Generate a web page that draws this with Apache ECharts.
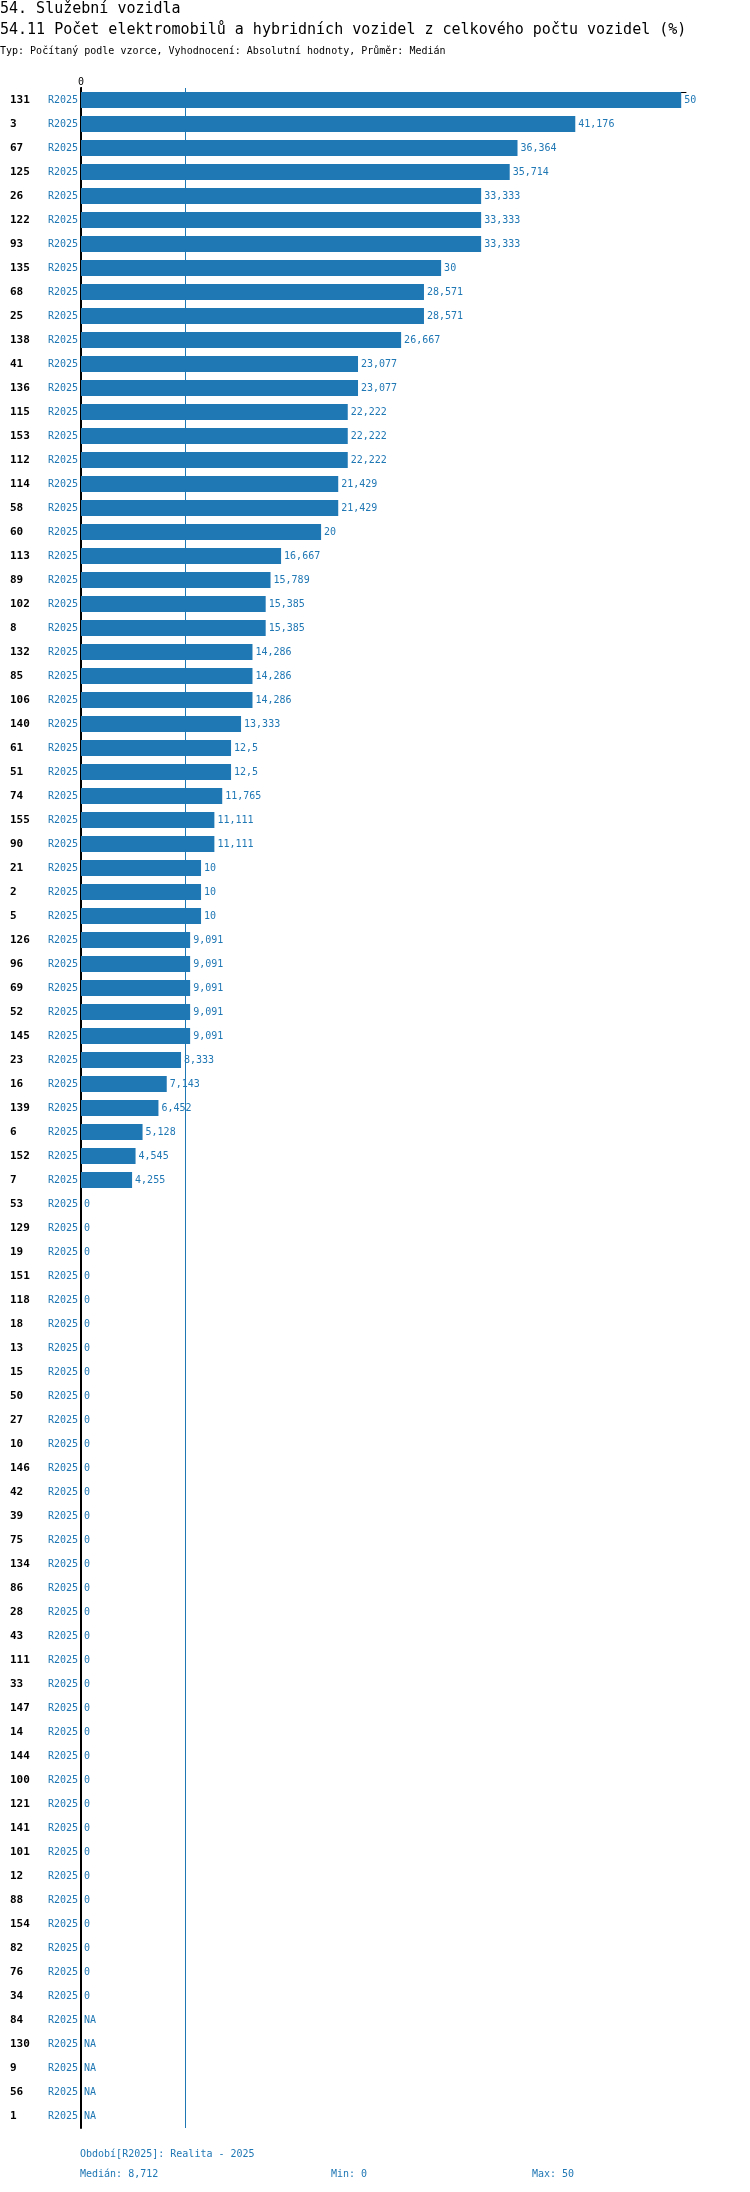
<!DOCTYPE html>
<html>
<head>
<meta charset="utf-8">
<script src="https://cdn.jsdelivr.net/npm/echarts@6/dist/echarts.min.js"></script>
<style>
html,body{margin:0;padding:0;background:#fff;}
#chart{width:750px;height:2192px;}
</style>
</head>
<body>
<div id="chart"></div>
<script>
var categories = ['131','3','67','125','26','122','93','135','68','25','138','41','136','115','153','112','114','58','60','113',
  '89','102','8','132','85','106','140','61','51','74','155','90','21','2','5','126','96','69','52','145',
  '23','16','139','6','152','7','53','129','19','151','118','18','13','15','50','27','10','146','42','39',
  '75','134','86','28','43','111','33','147','14','144','100','121','141','101','12','88','154','82','76','34',
  '84','130','9','56','1'];
var values = [50,41.176,36.364,35.714,33.333,33.333,33.333,30,28.571,28.571,26.667,23.077,23.077,22.222,22.222,22.222,21.429,21.429,20,16.667,
  15.789,15.385,15.385,14.286,14.286,14.286,13.333,12.5,12.5,11.765,11.111,11.111,10,10,10,9.091,9.091,9.091,9.091,9.091,
  8.333,7.143,6.452,5.128,4.545,4.255,0,0,0,0,0,0,0,0,0,0,0,0,0,0,
  0,0,0,0,0,0,0,0,0,0,0,0,0,0,0,0,0,0,0,0,
  null,null,null,null,null];
var period = 'R2025';
var periodName = 'Realita - 2025';

var mono = 'DejaVu Sans Mono';
var blue = '#1f77b4';

function czNum(v) {
  return String(Math.round(v * 1000) / 1000).replace('.', ',');
}

// median / min / max of the known values
var known = values.filter(function (v) { return v !== null; }).sort(function (a, b) { return a - b; });
var n = known.length;
var median = n % 2 ? known[(n - 1) / 2] : (known[n / 2 - 1] + known[n / 2]) / 2;
var vmin = known[0], vmax = known[n - 1];

var barData = values.map(function (v) {
  if (v === null) return { value: 0, label: { formatter: 'NA' } };
  return v;
});

var chart = echarts.init(document.getElementById('chart'));
var option = {
  animation: false,
  grid: { left: 81, top: 88, width: 605, height: 2040 },
  xAxis: {
    type: 'value', position: 'top', offset: -4, min: 0, max: 50.4,
    axisLine: { show: true, lineStyle: { color: '#000', width: 1 } },
    axisTick: { show: true, length: 5, customValues: [0], lineStyle: { color: '#000' } },
    axisLabel: { show: true, customValues: [0], margin: 5, color: '#000', fontFamily: mono, fontSize: 10 },
    splitLine: { show: false }
  },
  yAxis: {
    type: 'category', inverse: true, data: categories,
    axisLine: { show: true, lineStyle: { color: '#000', width: 2 } },
    axisTick: { show: false },
    axisLabel: {
      margin: 3,
      formatter: function (c) { return '{a|' + c + '}{b|' + period + '}'; },
      rich: {
        a: { width: 38, align: 'left', fontFamily: mono, fontSize: 11, fontWeight: 'bold', color: '#000' },
        b: { fontFamily: mono, fontSize: 10, color: blue }
      }
    }
  },
  series: [{
    type: 'bar',
    data: barData,
    barWidth: 16,
    itemStyle: { color: blue },
    label: {
      show: true, position: 'right', distance: 3,
      color: blue, fontFamily: mono, fontSize: 10,
      formatter: function (p) { return czNum(p.value); }
    },
    markLine: {
      silent: true, symbol: 'none', animation: false,
      label: { show: false },
      lineStyle: { color: blue, width: 1, type: 'solid' },
      data: [{ xAxis: median }]
    }
  }],
  graphic: [
    { type: 'text', left: 0, top: 2, style: { text: '54. Služební vozidla', font: '15px "DejaVu Sans Mono"', fill: '#000' } },
    { type: 'text', left: 0, top: 23, style: { text: '54.11 Počet elektromobilů a hybridních vozidel z celkového počtu vozidel (%)', font: '15px "DejaVu Sans Mono"', fill: '#000' } },
    { type: 'text', left: 0, top: 46, style: { text: 'Typ: Počítaný podle vzorce, Vyhodnocení: Absolutní hodnoty, Průměr: Medián', font: '10px "DejaVu Sans Mono"', fill: '#000' } },
    { type: 'text', left: 80, top: 2149, style: { text: 'Období[' + period + ']: ' + periodName, font: '10px "DejaVu Sans Mono"', fill: blue } },
    { type: 'text', left: 80, top: 2169, style: { text: 'Medián: ' + czNum(median), font: '10px "DejaVu Sans Mono"', fill: blue } },
    { type: 'text', left: 331, top: 2169, style: { text: 'Min: ' + czNum(vmin), font: '10px "DejaVu Sans Mono"', fill: blue } },
    { type: 'text', left: 532, top: 2169, style: { text: 'Max: ' + czNum(vmax), font: '10px "DejaVu Sans Mono"', fill: blue } }
  ]
};
chart.setOption(option);
</script>
</body>
</html>
